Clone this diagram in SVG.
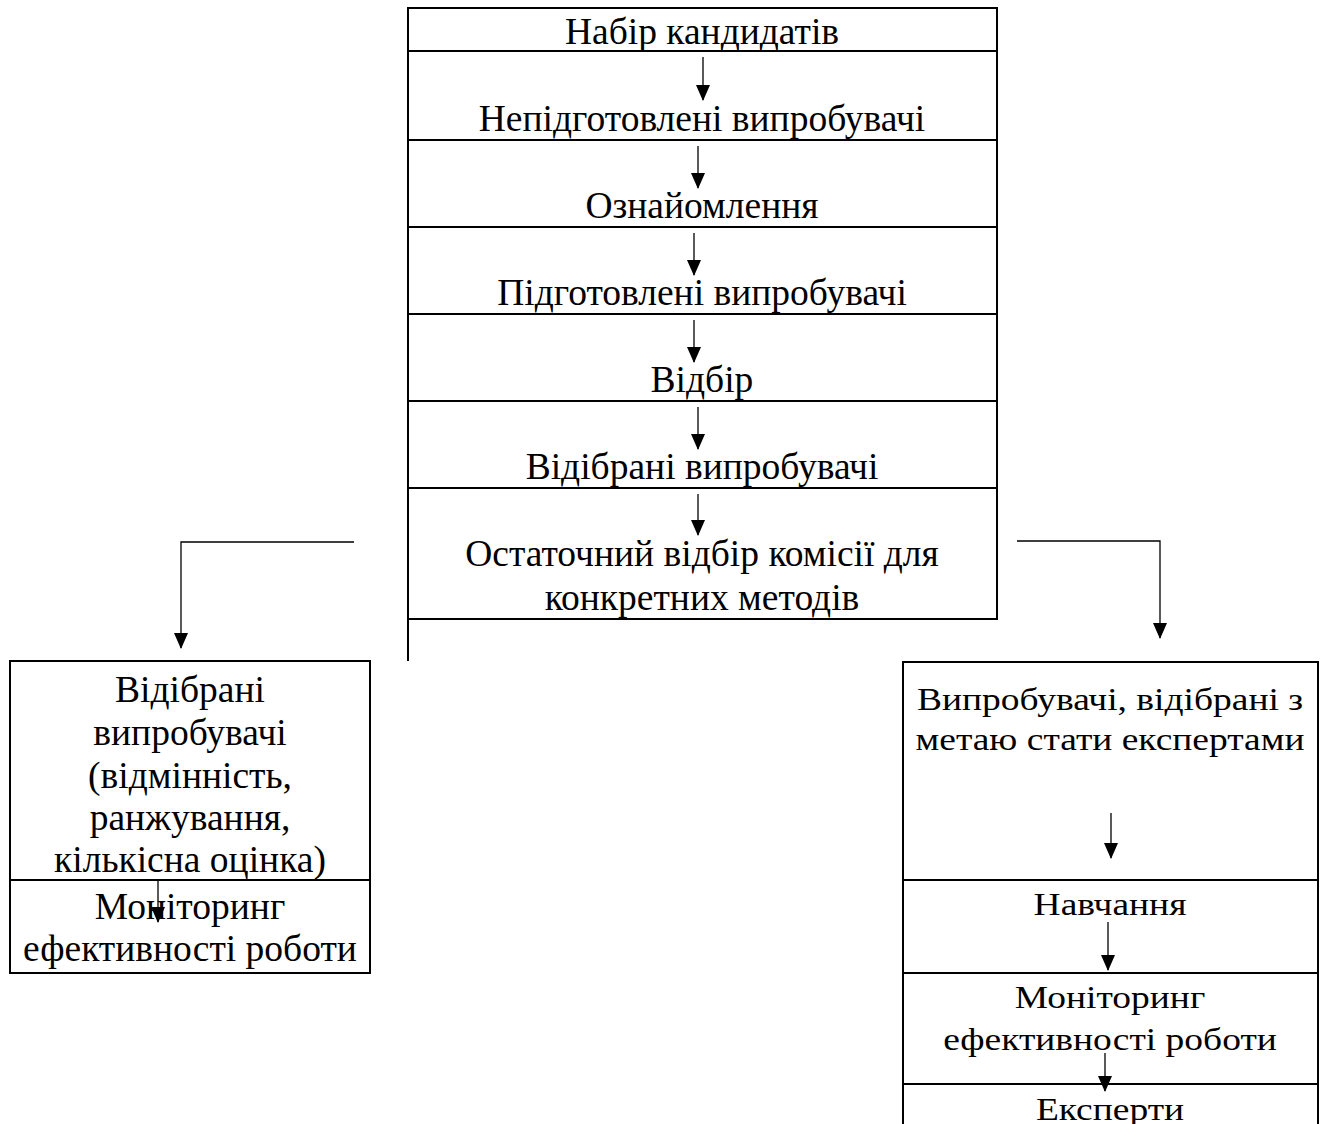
<svg xmlns="http://www.w3.org/2000/svg" width="1325" height="1124" viewBox="0 0 1325 1124">
<style>
.box{fill:#fff;stroke:#000;stroke-width:2}
.ln{stroke:#000;stroke-width:2;fill:none}
.t{font-family:"Liberation Serif","Times New Roman",serif;font-size:37.5px;fill:#000;text-anchor:middle}
.g{font-family:"Liberation Serif","Times New Roman",serif;font-size:31px;fill:#000;text-anchor:middle}
.c{stroke:#000;stroke-width:1.3;fill:none;marker-end:url(#ah)}
</style>
<defs>
<marker id="ah" markerUnits="userSpaceOnUse" markerWidth="16" markerHeight="14" refX="15" refY="7" orient="auto" viewBox="0 0 16 14">
<path d="M0,0 L16,7 L0,14 Z" fill="#000"/>
</marker>
</defs>
<rect width="1325" height="1124" fill="#fff"/>
<g id="main">
<rect class="box" x="408" y="8" width="589" height="611"/>
<line class="ln" x1="408" y1="51" x2="997" y2="51"/>
<line class="ln" x1="408" y1="140" x2="997" y2="140"/>
<line class="ln" x1="408" y1="227" x2="997" y2="227"/>
<line class="ln" x1="408" y1="314" x2="997" y2="314"/>
<line class="ln" x1="408" y1="401" x2="997" y2="401"/>
<line class="ln" x1="408" y1="488" x2="997" y2="488"/>
<line class="ln" x1="408" y1="619" x2="408" y2="661"/>
<text class="t" x="702" y="44">Набір кандидатів</text>
<text class="t" x="702" y="131">Непідготовлені випробувачі</text>
<text class="t" x="702" y="218">Ознайомлення</text>
<text class="t" x="702" y="305">Підготовлені випробувачі</text>
<text class="t" x="702" y="392">Відбір</text>
<text class="t" x="702" y="479">Відібрані випробувачі</text>
<text class="t" x="702" y="566">Остаточний відбір комісії для</text>
<text class="t" x="702" y="610">конкретних методів</text>
</g>
<g id="left">
<rect class="box" x="10" y="661" width="360" height="312"/>
<line class="ln" x1="10" y1="880" x2="370" y2="880"/>
<text class="t" x="190" y="702">Відібрані</text>
<text class="t" x="190" y="745">випробувачі</text>
<text class="t" x="190" y="788">(відмінність,</text>
<text class="t" x="190" y="830">ранжування,</text>
<text class="t" x="190" y="872">кількісна оцінка)</text>
<text class="t" x="190" y="919">Моніторинг</text>
<text class="t" x="190" y="961">ефективності роботи</text>
</g>
<g id="right">
<rect class="box" x="903" y="662" width="415" height="470"/>
<line class="ln" x1="903" y1="880" x2="1318" y2="880"/>
<line class="ln" x1="903" y1="973" x2="1318" y2="973"/>
<line class="ln" x1="903" y1="1084" x2="1318" y2="1084"/>
<text class="g" transform="translate(1110,710) scale(1.21,1)">Випробувачі, відібрані з</text>
<text class="g" transform="translate(1110,750) scale(1.21,1)">метаю стати експертами</text>
<text class="g" transform="translate(1110,915) scale(1.21,1)">Навчання</text>
<text class="g" transform="translate(1110,1008) scale(1.21,1)">Моніторинг</text>
<text class="g" transform="translate(1110,1050) scale(1.21,1)">ефективності роботи</text>
<text class="g" transform="translate(1110,1120) scale(1.21,1)">Експерти</text>
</g>
<g id="connectors">
<path class="c" d="M703,57 V100"/>
<path class="c" d="M698,146 V188"/>
<path class="c" d="M694,233 V275"/>
<path class="c" d="M694,320 V362"/>
<path class="c" d="M698,407 V449"/>
<path class="c" d="M698,494 V535"/>
<path class="c" d="M354,542 H181 V648"/>
<path class="c" d="M1017,541 H1160 V638"/>
<path class="c" d="M158,880 V922"/>
<path class="c" d="M1111,813 V858"/>
<path class="c" d="M1108,922 V970"/>
<path class="c" d="M1105,1053 V1091"/>
</g>
</svg>
